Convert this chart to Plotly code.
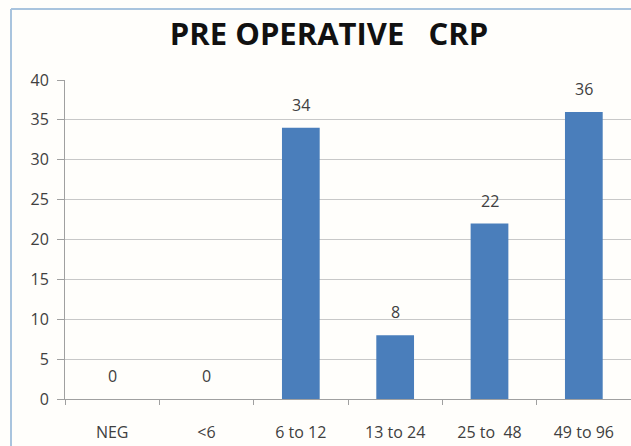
import plotly.graph_objects as go

# CRP ranges (mg/L) and patient counts
categories = ["NEG", "<6", "6 to 12", "13 to 24", "25 to  48", "49 to 96"]
counts = [0, 0, 34, 8, 22, 36]
y_ticks = [0, 5, 10, 15, 20, 25, 30, 35, 40]

W, H = 631, 446
ML, MR, MT, MB = 65, 0, 80, 47
PW, PH = W - ML - MR, H - MT - MB

FONT = "'Open Sans', Lato, sans-serif"
BAR = "#4a7ebb"
GRID = "#c8c8c8"
AXIS = "#a0a0a0"
TEXT = "#404040"


def px_x(x):
    return (x - ML) / PW


def px_y(y):
    return (H - MB - y) / PH


fig = go.Figure(
    go.Bar(
        x=categories,
        y=counts,
        marker=dict(color=BAR, line=dict(width=0)),
        width=0.4,
        hoverinfo="x+y",
    )
)

# value labels sitting above each bar
for cat, val in zip(categories, counts):
    fig.add_annotation(
        x=cat, y=val, text=str(val),
        showarrow=False, yanchor="bottom", yshift=10,
        font=dict(family=FONT, size=16, color=TEXT),
    )

# frame around the chart area (top and left edges)
frame = "#a9c4de"
fig.add_shape(type="line", xref="paper", yref="paper",
              x0=px_x(11), x1=px_x(W + 2), y0=px_y(9), y1=px_y(9),
              line=dict(color=frame, width=2))
fig.add_shape(type="line", xref="paper", yref="paper",
              x0=px_x(11), x1=px_x(11), y0=px_y(9), y1=px_y(H + 2),
              line=dict(color=frame, width=2))

fig.update_layout(
    width=W,
    height=H,
    margin=dict(l=ML, r=MR, t=MT, b=MB),
    paper_bgcolor="#fffefb",
    plot_bgcolor="#fffefb",
    showlegend=False,
    bargap=0.6,
    title=dict(
        text="<b>PRE OPERATIVE\u00a0\u00a0\u00a0CRP</b>",
        x=329 / W,
        xanchor="center",
        y=1 - 34 / H,
        yanchor="middle",
        font=dict(family=FONT, size=31, color="#111111"),
    ),
    font=dict(family=FONT, color=TEXT),
)

fig.update_xaxes(
    type="category",
    showline=True,
    linecolor=AXIS,
    linewidth=1,
    ticks="outside",
    tickson="boundaries",
    ticklen=5,
    tickcolor=AXIS,
    tickfont=dict(family=FONT, size=16, color=TEXT),
    showgrid=False,
    ticklabelstandoff=19,
)

fig.update_yaxes(
    range=[0, 40],
    tickvals=y_ticks,
    showline=True,
    linecolor=AXIS,
    linewidth=1,
    ticks="outside",
    ticklen=7,
    tickcolor=AXIS,
    showgrid=True,
    gridcolor=GRID,
    gridwidth=1,
    zeroline=False,
    tickfont=dict(family=FONT, size=16, color=TEXT),
    ticklabelstandoff=5,
)

fig.write_html("out.html")
